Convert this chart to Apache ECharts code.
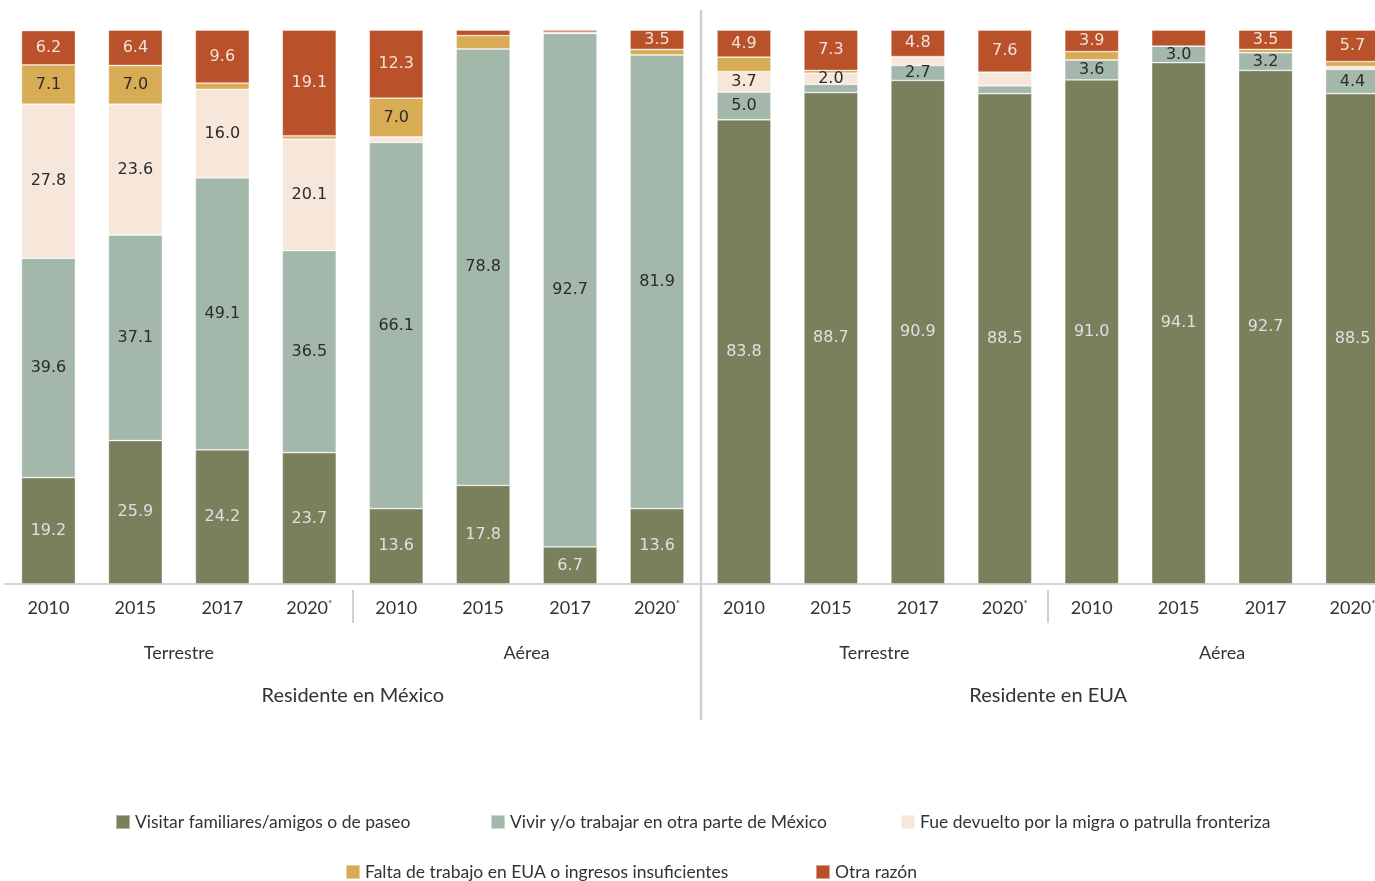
<!DOCTYPE html>
<html><head><meta charset="utf-8">
<script src="https://cdn.jsdelivr.net/npm/echarts@6/dist/echarts.min.js"></script>
<style>html,body{margin:0;padding:0;background:#fff}#c{width:1375px;height:881px}</style>
</head><body><div id="c"></div>
<script>
const categories = ['2010','2015','2017','2020*','2010','2015','2017','2020*','2010','2015','2017','2020*','2010','2015','2017','2020*'];
const modeLabels = ['Terrestre','Aérea','Terrestre','Aérea'];
const residenceLabels = ['Residente en México','Residente en EUA'];
const seriesNames = ['Visitar familiares/amigos o de paseo','Vivir y/o trabajar en otra parte de México','Fue devuelto por la migra o patrulla fronteriza','Falta de trabajo en EUA o ingresos insuficientes','Otra razón'];
const visitar  = [19.2,25.9,24.2,23.7,13.6,17.8,6.7,13.6,83.8,88.7,90.9,88.5,91.0,94.1,92.7,88.5];
const vivir    = [39.6,37.1,49.1,36.5,66.1,78.8,92.7,81.9,5.0,1.5,2.7,1.4,3.6,3.0,3.2,4.4];
const devuelto = [27.8,23.6,16.0,20.1,1.0,0,0,0,3.7,2.0,1.5,2.5,0,0,0,0.5];
const falta    = [7.1,7.0,1.1,0.6,7.0,2.4,0.2,1.0,2.6,0.5,0.1,0,1.5,0,0.6,0.9];
const otra     = [6.2,6.4,9.6,19.1,12.3,1.0,0.4,3.5,4.9,7.3,4.8,7.6,3.9,2.9,3.5,5.7];
// indices of segments whose value is printed in the reference
const shownVisitar  = [0,1,2,3,4,5,6,7,8,9,10,11,12,13,14,15];
const shownVivir    = [0,1,2,3,4,5,6,7,8,10,12,13,14,15];
const shownDevuelto = [0,1,2,3,8,9];
const shownFalta    = [0,1,4];
const shownOtra     = [0,1,2,3,4,7,8,9,10,11,12,14,15];

const colors = ['#7a7f5c','#a3b8ab','#f7e6da','#d8ab55','#b9512a'];
const labelColors = ['#e0e0e0','#2b2b2b','#2b2b2b','#2b2b2b','#f2e2da'];
const values = [visitar, vivir, devuelto, falta, otra];
const shown = [shownVisitar, shownVivir, shownDevuelto, shownFalta, shownOtra];
const FONT = "Lato,'Noto Sans',sans-serif";

const chart = echarts.init(document.getElementById('c'), null, {renderer:'canvas'});

const series = seriesNames.map((name, s) => ({
  name, type:'bar', stack:'total', xAxisIndex:0, barWidth:54,
  itemStyle:{color:colors[s], borderColor:'rgba(255,255,255,0.45)', borderWidth:0.8},
  emphasis:{disabled:true},
  data: values[s].map((v,i) => ({
    value:v,
    label:{show: shown[s].indexOf(i) >= 0}
  })),
  label:{
    position:'inside', fontFamily:"'DejaVu Sans',sans-serif", fontSize:16,
    color:labelColors[s], formatter: p => p.value.toFixed(1)
  }
}));

const legendLayout = [[115,813],[490,813],[900,813],[345,863],[815,863]];
const legends = seriesNames.map((name, s) => ({
  data:[name], left:legendLayout[s][0], top:legendLayout[s][1], padding:0,
  icon:'rect', itemWidth:14, itemHeight:14, itemGap:0, selectedMode:false,
  textStyle:{fontFamily:FONT, fontSize:17.5, color:'#333'}
}));

chart.setOption({
  backgroundColor:'#fff',
  animation:false,
  grid:{left:5, right:-21, top:30, bottom:297, containLabel:false, outerBoundsMode:'none'},
  legend: legends,
  xAxis:[
    {type:'category', data:categories, position:'bottom',
     axisLine:{lineStyle:{color:'#d4d4d4', width:2}}, axisTick:{show:false},
     axisLabel:{interval:0, margin:15, fontFamily:FONT, fontSize:18, color:'#333',
       formatter: v => v.endsWith('*') ? v.slice(0,-1) + '{sup|*}' : v,
       rich:{sup:{fontSize:10, verticalAlign:'top', color:'#333', padding:[0,0,6,0]}}}},
    {type:'category', data:modeLabels, position:'bottom',
     axisLine:{show:false}, axisTick:{show:false},
     axisLabel:{interval:0, margin:60, fontFamily:FONT, fontSize:18, color:'#333'}},
    {type:'category', data:residenceLabels, position:'bottom',
     axisLine:{show:false}, axisTick:{show:false},
     axisLabel:{interval:0, margin:102, fontFamily:FONT, fontSize:20, color:'#333'}}
  ],
  yAxis:{type:'value', min:0, max:100, show:false},
  series
});

const px = i => chart.convertToPixel({xAxisIndex:0}, i);
const mid = (a,b) => Math.round((px(a)+px(b))/2);
chart.setOption({
  graphic:[
    {type:'line', shape:{x1:mid(7,8), y1:10, x2:mid(7,8), y2:720}, style:{stroke:'#cfcfcf', lineWidth:2.5}, z:100},
    {type:'line', shape:{x1:mid(3,4), y1:590, x2:mid(3,4), y2:623}, style:{stroke:'#cfcfcf', lineWidth:2}},
    {type:'line', shape:{x1:mid(11,12), y1:590, x2:mid(11,12), y2:623}, style:{stroke:'#cfcfcf', lineWidth:2}}
  ]
});
</script>
</body></html>
